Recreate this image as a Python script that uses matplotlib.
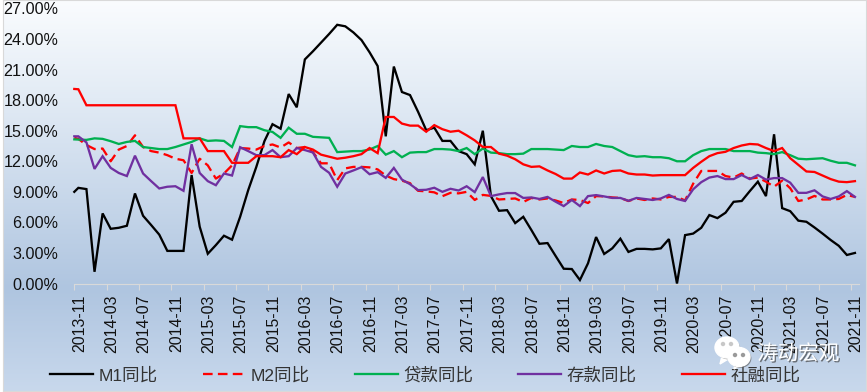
import matplotlib
matplotlib.use('Agg')
import matplotlib.pyplot as plt
import matplotlib.patheffects as pe
from matplotlib.colors import LinearSegmentedColormap
from matplotlib.patches import Ellipse, Polygon
from matplotlib.transforms import ScaledTranslation
import numpy as np

plt.rcParams['font.family'] = ['Liberation Sans', 'Noto Sans CJK SC']

W, H = 867, 392

tick_labels = ["2013-11", "2014-03", "2014-07", "2014-11", "2015-03", "2015-07", "2015-11",
               "2016-03", "2016-07", "2016-11", "2017-03", "2017-07", "2017-11", "2018-03",
               "2018-07", "2018-11", "2019-03", "2019-07", "2019-11", "2020-03", "2020-07",
               "2020-11", "2021-03", "2021-07", "2021-11"]
y_ticks = [0, 3, 6, 9, 12, 15, 18, 21, 24, 27]

# first value sits on the axis start, the rest are mid-month
m1 = [9.0, 9.39, 9.27, 1.15, 6.88, 5.37, 5.47, 5.67, 8.84, 6.65, 5.74, 4.8, 3.2, 3.2, 3.2,
      10.65, 5.58, 2.92, 3.77, 4.69, 4.3, 6.55, 9.17, 11.45, 13.97, 15.64, 15.2, 18.6, 17.3,
      22.0, 22.8, 23.65, 24.5, 25.4, 25.25, 24.65, 23.9, 22.7, 21.35, 14.45, 21.3, 18.8,
      18.5, 16.85, 15.05, 15.3, 14.0, 14.0, 13.0, 12.7, 11.7, 15.0, 8.58, 7.14, 7.2, 5.93,
      6.55, 5.25, 3.9, 3.97, 2.7, 1.45, 1.42, 0.34, 1.98, 4.56, 2.9, 3.45, 4.4, 3.1, 3.4,
      3.4, 3.35, 3.45, 4.36, 0.0, 4.75, 4.9, 5.47, 6.72, 6.42, 6.95, 8.02, 8.1, 9.07, 10.0,
      8.58, 14.65, 7.4, 7.1, 6.17, 6.06, 5.5, 4.9, 4.27, 3.7, 2.8, 3.0]
m2 = [14.3, 14.2, 13.6, 13.2, 13.25, 12.0, 13.15, 13.5, 14.55, 13.4, 13.0, 12.85, 12.6, 12.25,
      12.1, 10.85, 12.25, 11.6, 10.3, 10.8, 11.6, 13.3, 13.25, 13.15, 13.5, 13.65, 13.35,
      13.85, 13.3, 13.4, 12.9, 11.8, 11.8, 10.15, 11.3, 11.45, 11.45, 11.4, 11.2, 10.6,
      10.25, 10.1, 9.85, 9.1, 9.05, 8.95, 8.57, 8.9, 8.85, 9.0, 8.2, 8.7, 8.6, 8.25, 8.3,
      8.35, 8.0, 8.4, 8.25, 8.35, 8.15, 7.9, 8.25, 8.2, 7.9, 8.58, 8.55, 8.45, 8.4, 8.1,
      8.35, 8.2, 8.35, 8.25, 8.5, 8.5, 8.15, 9.8, 11.05, 11.05, 11.05, 10.55, 10.4, 10.8,
      10.3, 10.4, 10.0, 9.5, 10.1, 9.35, 8.1, 8.25, 8.6, 8.25, 8.25, 8.3, 8.7, 8.5]
loan = [14.15, 14.13, 14.1, 14.25, 14.2, 13.97, 13.7, 13.9, 14.0, 13.4, 13.3, 13.2, 13.2, 13.4,
        13.65, 13.9, 14.25, 14.0, 14.05, 14.0, 13.4, 15.45, 15.35, 15.35, 15.05, 14.88, 14.3,
        15.3, 14.7, 14.7, 14.4, 14.35, 14.3, 12.9, 12.95, 13.0, 13.0, 13.15, 13.5, 12.65,
        13.0, 12.4, 12.85, 12.9, 12.9, 13.2, 13.2, 13.15, 13.0, 13.3, 12.7, 13.25, 12.85,
        12.8, 12.7, 12.7, 12.75, 13.2, 13.2, 13.2, 13.15, 13.1, 13.5, 13.4, 13.4, 13.7, 13.5,
        13.4, 13.0, 12.6, 12.45, 12.5, 12.4, 12.4, 12.3, 12.0, 12.0, 12.6, 13.0, 13.2, 13.2,
        13.2, 13.0, 13.0, 13.0, 12.85, 12.8, 12.7, 12.9, 12.6, 12.25, 12.2, 12.25, 12.3,
        12.05, 11.85, 11.85, 11.6]
deposit = [14.45, 14.45, 13.85, 11.25, 12.5, 11.35, 10.85, 10.55, 12.55, 10.8, 10.05, 9.33, 9.5,
           9.55, 9.1, 13.67, 10.85, 10.05, 9.65, 10.8, 10.6, 13.38, 13.0, 12.6, 12.6, 13.1,
           12.4, 12.5, 13.3, 13.1, 12.86, 11.45, 10.87, 9.5, 10.8, 11.1, 11.42, 10.73, 10.93,
           10.37, 11.35, 10.2, 9.75, 9.17, 9.2, 9.4, 9.0, 9.3, 9.13, 9.55, 8.97, 10.45, 8.58,
           8.75, 8.88, 8.88, 8.4, 8.45, 8.3, 8.5, 8.03, 7.6, 8.2, 7.6, 8.58, 8.68, 8.55, 8.4,
           8.4, 8.12, 8.4, 8.3, 8.2, 8.35, 8.7, 8.3, 8.1, 9.25, 9.95, 10.4, 10.55, 10.25, 10.25,
           10.65, 10.25, 10.65, 10.2, 10.35, 10.35, 9.9, 8.9, 8.9, 9.15, 8.55, 8.3, 8.55, 9.07,
           8.5]
tsf = [19.1, 19.07, 17.5, 17.5, 17.5, 17.5, 17.5, 17.5, 17.5, 17.5, 17.5, 17.5, 17.5, 17.5, 14.25,
       14.25, 14.25, 13.0, 13.0, 13.0, 11.85, 11.85, 11.85, 12.5, 12.5, 12.5, 12.4, 13.1, 12.7,
       13.4, 13.15, 12.65, 12.45, 12.25, 12.35, 12.5, 12.7, 13.3, 12.8, 16.35, 16.35, 15.7,
       15.5, 15.5, 14.9, 15.55, 15.15, 14.9, 15.0, 14.55, 14.05, 13.4, 13.4, 12.75, 12.55,
       12.2, 11.7, 11.45, 11.5, 11.1, 10.75, 10.3, 10.3, 10.9, 10.7, 11.1, 10.8, 11.05, 11.1,
       10.8, 10.7, 10.7, 10.6, 10.64, 10.64, 10.64, 10.64, 11.35, 11.95, 12.5, 12.8, 12.93,
       13.3, 13.55, 13.7, 13.65, 13.3, 13.0, 13.3, 12.3, 11.65, 11.0, 10.95, 10.6, 10.25,
       10.0, 9.95, 10.05]

series = [(m1, "M1同比", "black", "-"),
          (m2, "M2同比", "#ff0000", (0, (4.2, 2.3))),
          (loan, "贷款同比", "#00b050", "-"),
          (deposit, "存款同比", "#7030a0", "-"),
          (tsf, "社融同比", "#ff0000", "-")]

x = np.r_[0, np.arange(97) + 0.5]

fig = plt.figure(figsize=(W / 100, H / 100), dpi=100, facecolor='white')

# background gradient
bg = fig.add_axes([3 / W, 1 - 391 / H, 863 / W, 391 / H], zorder=0)
cmap = LinearSegmentedColormap.from_list(
    'bg', [(0, '#fafcfe'), (0.25, '#e2ebf5'), (0.74, '#afc5e0'), (1, '#c8d8ec')])
bg.imshow(np.linspace(0, 1, 256)[:, None], cmap=cmap, aspect='auto', extent=[0, 1, 0, 1])
bg.set_xticks([])
bg.set_yticks([])
for s in bg.spines.values():
    s.set_color('#d9d9d9')
    s.set_linewidth(0.8)

ax = fig.add_axes([74.3 / W, 1 - 283.5 / H, (859 - 74.3) / W, (283.5 - 8.5) / H], zorder=1)
ax.patch.set_alpha(0)

for vals, name, color, ls in series:
    ax.plot(x, vals, color=color, linestyle=ls, linewidth=1.65, label=name, clip_on=False,
            solid_joinstyle='miter', zorder=3)

ax.set_xlim(0, 97)
ax.set_ylim(0, 27)
ax.set_xticks(np.arange(len(tick_labels)) * 4)
ax.set_xticklabels(tick_labels, rotation=90, fontsize=11.4, color='#111111')
ax.set_yticks(y_ticks)
ax.set_yticklabels([f"{v:.2f}%" for v in y_ticks], fontsize=11.6, color='#111111')
ax.tick_params(axis='y', length=0, pad=11.5)
ax.tick_params(axis='x', length=4.3, width=0.8, color='#d9d9d9', pad=3.5)
offset = ScaledTranslation(5 / 100, 0, fig.dpi_scale_trans)
for lab in ax.get_xticklabels():
    lab.set_transform(lab.get_transform() + offset)
for name in ['top', 'left', 'right']:
    ax.spines[name].set_visible(False)
ax.spines['bottom'].set_color('#d9d9d9')
ax.spines['bottom'].set_linewidth(0.8)

leg = ax.legend(loc='center left', bbox_to_anchor=(50 / W, 1 - 375 / H),
                bbox_transform=fig.transFigure, ncol=5, frameon=False, fontsize=12.6,
                handlelength=2.46, handletextpad=0.3, columnspacing=2.577,
                borderpad=0, borderaxespad=0)
for t in leg.get_texts():
    t.set_color('#333333')

# watermark, pixel coordinates from the top left
over = fig.add_axes([0, 0, 1, 1], zorder=2)
over.set_xlim(0, W)
over.set_ylim(H, 0)
over.axis('off')
shadow = [pe.withSimplePatchShadow(offset=(1, -1), shadow_rgbFace='#555555', alpha=0.6)]
over.add_patch(Polygon([[722, 356], [720, 364], [730, 358]], color='white'))
over.add_patch(Ellipse((727, 347.5), 24, 21, color='white', path_effects=shadow))
over.add_patch(Polygon([[735, 363], [734, 369], [742, 365]], color='white'))
over.add_patch(Ellipse((739, 357), 22, 19, color='white', path_effects=shadow))
for ex, ey in [(723, 344), (731, 344)]:
    over.add_patch(Ellipse((ex, ey), 3, 3, color='#c8c8c8'))
for ex, ey in [(735, 355), (743, 355)]:
    over.add_patch(Ellipse((ex, ey), 3, 3, color='#9a9a9a'))
over.text(798, 354, "涛动宏观", color='white', fontsize=14.8, ha='center', va='center',
          path_effects=[pe.withSimplePatchShadow(offset=(1, -1), shadow_rgbFace='#444444', alpha=0.7)])

fig.savefig('out.png', dpi=100)
